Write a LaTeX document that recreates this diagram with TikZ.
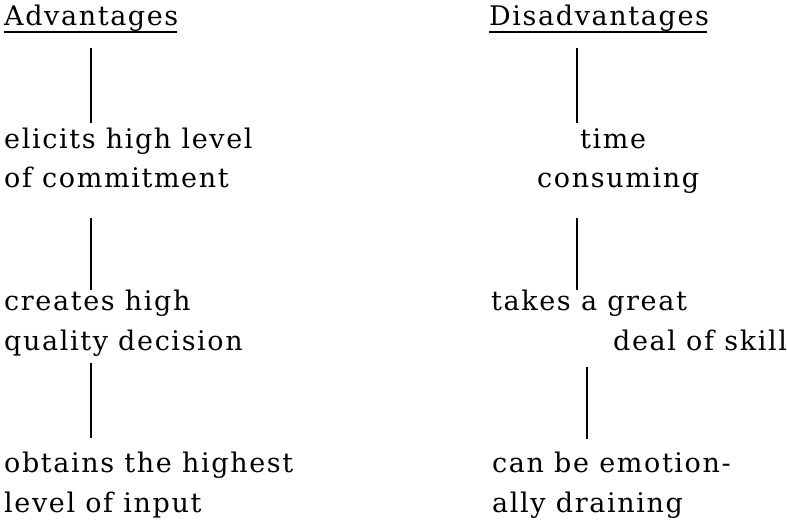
\documentclass[tikz,border=0pt]{standalone}
\usepackage{fontspec}
\setmainfont{DejaVu Serif}[LetterSpace=6]
\usetikzlibrary{calc}
\begin{document}
\begin{tikzpicture}[x=1pt,y=-1pt,
  txt/.style={anchor=base west, inner sep=0pt, font=\fontsize{27}{34}\selectfont},
  conn/.style={line width=1.6pt, black},
  uline/.style={line width=2pt, black}]
\useasboundingbox (0,0) rectangle (787,521);
% x positions of the connectors
\coordinate (ax) at (91,0);
\coordinate (dx1) at (577,0);
\coordinate (dx2) at (587,0);
% left column
\node[txt] (adv) at (4,26) {Advantages};
\node[txt] (a1a) at (4,149) {elicits high level};
\node[txt] (a1b) at (4,188) {of commitment};
\node[txt] (a2a) at (4,310) {creates high};
\node[txt] (a2b) at (4,350) {quality decision};
\node[txt] (a3a) at (4,472) {obtains the highest};
\node[txt] (a3b) at (4,512) {level of input};
% right column
\node[txt] (dis) at (489,26) {Disadvantages};
\node[txt] (d1a) at (580,149) {time};
\node[txt] (d1b) at (537,188) {consuming};
\node[txt] (d2a) at (491,310) {takes a great};
\node[txt] (d2b) at (613,350) {deal of skill};
\node[txt] (d3a) at (492,472) {can be emotion-};
\node[txt] (d3b) at (492,512) {ally draining};
% underlines
\draw[uline] ($(adv.base west)+(0,6)$) -- ($(adv.base east)+(-2,6)$);
\draw[uline] ($(dis.base west)+(0,6)$) -- ($(dis.base east)+(-2,6)$);
% connectors
\draw[conn] ($(adv.base -| ax)+(0,22)$) -- ($(a1a.base -| ax)+(0,-26)$);
\draw[conn] ($(a1b.base -| ax)+(0,30)$) -- ($(a2a.base -| ax)+(0,-20)$);
\draw[conn] ($(a2b.base -| ax)+(0,13)$) -- ($(a3a.base -| ax)+(0,-34)$);
\draw[conn] ($(dis.base -| dx1)+(0,22)$) -- ($(d1a.base -| dx1)+(0,-26)$);
\draw[conn] ($(d1b.base -| dx1)+(0,30)$) -- ($(d2a.base -| dx1)+(0,-20)$);
\draw[conn] ($(d2b.base -| dx2)+(0,17)$) -- ($(d3a.base -| dx2)+(0,-33)$);
\end{tikzpicture}
\end{document}
